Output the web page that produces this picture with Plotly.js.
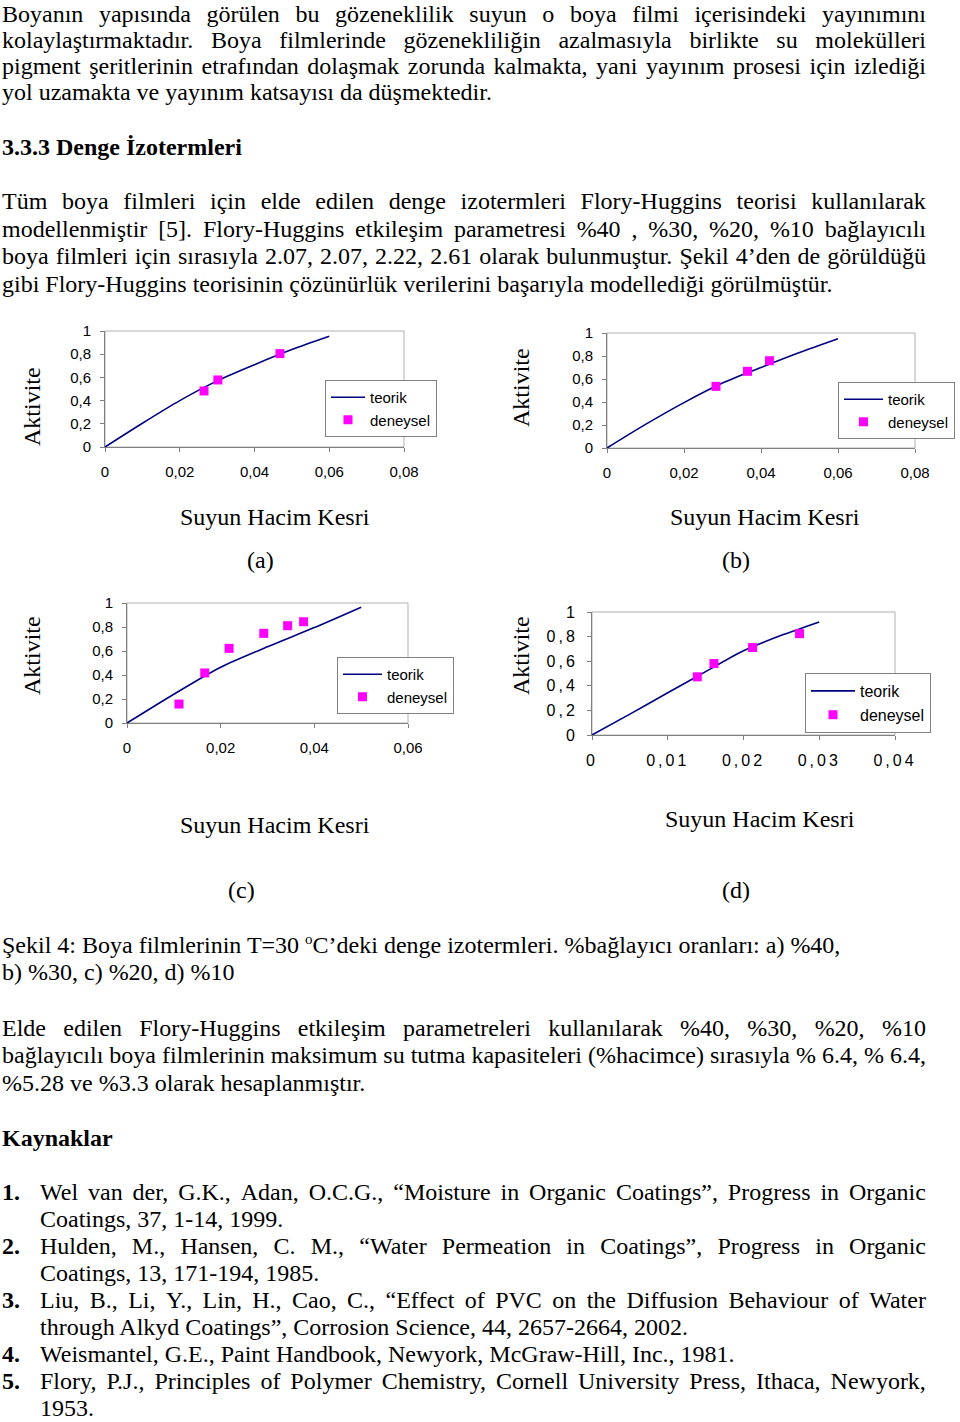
<!DOCTYPE html>
<html>
<head>
<meta charset="utf-8">
<script src="https://cdn.plot.ly/plotly-3.0.1.min.js"></script>
<style>
html,body{margin:0;padding:0;background:#fff;}
#page{position:relative;width:960px;height:1422px;overflow:hidden;background:#fff;}
#chart{position:absolute;left:0;top:0;width:960px;height:1422px;}
.ln{position:absolute;font-family:'Liberation Serif','Times New Roman',serif;font-size:24px;line-height:20px;white-space:nowrap;color:#000;z-index:2;}
.jf{display:flex;justify-content:space-between;}
.b{font-weight:bold;}
sup{font-size:15px;line-height:0;vertical-align:9px;}
.x4tick text,.y4tick text{letter-spacing:3px;}
.legend4 .legendtext{letter-spacing:1px;}
</style>
</head>
<body>
<div id="page">
<div id="chart"></div>
<div id="text"></div>
</div>
<script>
// ---------- data ----------
const seriesNames = ['teorik', 'deneysel'];

const teorikA_x = [0, 0.01, 0.02, 0.03, 0.04, 0.05, 0.06];
const teorikA_y = [0, 0.205, 0.40, 0.57, 0.71, 0.84, 0.955];
const deneyselA_x = [0.0265, 0.0302, 0.0468];
const deneyselA_y = [0.483, 0.578, 0.805];

const teorikB_x = [0, 0.01, 0.02, 0.03, 0.04, 0.05, 0.06];
const teorikB_y = [0, 0.205, 0.395, 0.565, 0.70, 0.83, 0.95];
const deneyselB_x = [0.0283, 0.0365, 0.0422];
const deneyselB_y = [0.536, 0.667, 0.759];

const teorikC_x = [0, 0.01, 0.02, 0.03, 0.04, 0.05];
const teorikC_y = [0, 0.24, 0.465, 0.635, 0.795, 0.965];
const deneyselC_x = [0.0111, 0.0166, 0.0218, 0.0292, 0.0343, 0.0377];
const deneyselC_y = [0.158, 0.417, 0.622, 0.747, 0.811, 0.844];

const teorikD_x = [0, 0.005, 0.01, 0.015, 0.02, 0.025, 0.03];
const teorikD_y = [0, 0.17, 0.343, 0.515, 0.685, 0.81, 0.919];
const deneyselD_x = [0.0139, 0.0161, 0.0212, 0.0274];
const deneyselD_y = [0.473, 0.581, 0.711, 0.824];

const yTickVals = [0, 0.2, 0.4, 0.6, 0.8, 1];
const yTickText = ['0', '0,2', '0,4', '0,6', '0,8', '1'];
const xTickValsAB = [0, 0.02, 0.04, 0.06, 0.08];
const xTickTextAB = ['0', '0,02', '0,04', '0,06', '0,08'];
const xTickValsC = [0, 0.02, 0.04, 0.06];
const xTickTextC = ['0', '0,02', '0,04', '0,06'];
const xTickValsD = [0, 0.01, 0.02, 0.03, 0.04];
const xTickTextD = ['0', '0,01', '0,02', '0,03', '0,04'];

const xTitle = 'Suyun Hacim Kesri';
const yTitle = 'Aktivite';
const panelLabels = ['(a)', '(b)', '(c)', '(d)'];

// ---------- layout config (page pixels) ----------
const W = 960, H = 1422;
const px = v => v / W;
const py = v => 1 - v / H;

const panels = [
  {tx: teorikA_x, ty: teorikA_y, dx: deneyselA_x, dy: deneyselA_y, xv: xTickValsAB, xt: xTickTextAB, xmax: 0.08,
   L: 105, R: 404, T: 331, B: 447, lgL: 325, lgT: 380, lgW: 34, ttlX: 275, ttlY: 517, labX: 260, labY: 560, akX: 32, akY: 407, fs: 15},
  {tx: teorikB_x, ty: teorikB_y, dx: deneyselB_x, dy: deneyselB_y, xv: xTickValsAB, xt: xTickTextAB, xmax: 0.08,
   L: 607, R: 915, T: 333, B: 448, lgL: 838, lgT: 382, lgW: 39, ttlX: 765, ttlY: 517, labX: 736, labY: 560, akX: 521, akY: 388, fs: 15},
  {tx: teorikC_x, ty: teorikC_y, dx: deneyselC_x, dy: deneyselC_y, xv: xTickValsC, xt: xTickTextC, xmax: 0.06,
   L: 127, R: 408, T: 603, B: 723, lgL: 337, lgT: 657, lgW: 39, ttlX: 275, ttlY: 825, labX: 241, labY: 890, akX: 32, akY: 656, fs: 15},
  {tx: teorikD_x, ty: teorikD_y, dx: deneyselD_x, dy: deneyselD_y, xv: xTickValsD, xt: xTickTextD, xmax: 0.04,
   L: 592, R: 895, T: 612, B: 735, lgL: 805, lgT: 673, lgW: 44, ttlX: 760, ttlY: 819, labX: 736, labY: 890, akX: 521, akY: 656, fs: 16}
];

const traces = [];
const layout = {
  width: W, height: H,
  margin: {l: 0, r: 0, t: 0, b: 0},
  paper_bgcolor: 'rgba(0,0,0,0)', plot_bgcolor: 'rgba(0,0,0,0)',
  separators: ', ',
  font: {family: 'Liberation Sans, Arial, sans-serif', color: '#000', size: 15},
  annotations: [], shapes: []
};
const serif = 'Liberation Serif, Times New Roman, serif';

panels.forEach((p, i) => {
  const s = i === 0 ? '' : String(i + 1);
  const lg = 'legend' + s;
  traces.push({
    type: 'scatter', mode: 'lines', name: seriesNames[0], x: p.tx, y: p.ty,
    xaxis: 'x' + s, yaxis: 'y' + s, legend: lg,
    line: {color: '#000080', width: 1.6, shape: 'spline', smoothing: 0.8}
  });
  traces.push({
    type: 'scatter', mode: 'markers', name: seriesNames[1], x: p.dx, y: p.dy,
    xaxis: 'x' + s, yaxis: 'y' + s, legend: lg,
    marker: {color: '#ff00ff', symbol: 'square', size: 9}
  });
  const axCommon = {
    showgrid: false, zeroline: false, showline: true, linecolor: '#808080', linewidth: 1,
    ticks: 'outside', ticklen: 4, tickcolor: '#808080', tickwidth: 1,
    tickfont: {family: 'Liberation Sans, Arial, sans-serif', size: p.fs, color: '#000'},
    fixedrange: true
  };
  layout['xaxis' + s] = Object.assign({}, axCommon, {
    domain: [px(p.L), px(p.R)], anchor: 'y' + s, range: [0, p.xmax], autorange: false,
    tickmode: 'array', tickvals: p.xv, ticktext: p.xt, ticklabelstandoff: 7
  });
  layout['yaxis' + s] = Object.assign({}, axCommon, {
    domain: [py(p.B), py(p.T)], anchor: 'x' + s, range: [0, 1], autorange: false,
    tickmode: 'array', tickvals: yTickVals, ticktext: yTickText, ticklabelstandoff: 6
  });
  layout[lg] = {
    x: px(p.lgL), y: py(p.lgT), xanchor: 'left', yanchor: 'top',
    bgcolor: '#ffffff', bordercolor: '#808080', borderwidth: 1,
    font: {family: 'Liberation Sans, Arial, sans-serif', size: p.fs, color: '#000'},
    tracegroupgap: 4, itemwidth: p.lgW
  };
  layout.shapes.push({
    type: 'rect', xref: 'x' + s + ' domain', yref: 'y' + s + ' domain',
    x0: 0, x1: 1, y0: 0, y1: 1, line: {color: '#b0b0b0', width: 1}, layer: 'below'
  });
  layout.annotations.push(
    {text: xTitle, xref: 'paper', yref: 'paper', x: px(p.ttlX), y: py(p.ttlY), xanchor: 'center', yanchor: 'middle',
     showarrow: false, font: {family: serif, size: 24, color: '#000'}},
    {text: panelLabels[i], xref: 'paper', yref: 'paper', x: px(p.labX), y: py(p.labY), xanchor: 'center', yanchor: 'middle',
     showarrow: false, font: {family: serif, size: 24, color: '#000'}},
    {text: yTitle, xref: 'paper', yref: 'paper', x: px(p.akX), y: py(p.akY), xanchor: 'center', yanchor: 'middle',
     textangle: -90, showarrow: false, font: {family: serif, size: 24, color: '#000'}}
  );
});

Plotly.newPlot('chart', traces, layout, {staticPlot: true, displayModeBar: false});

// ---------- body text ----------
const lines = [
  {c: 14, t: 'Boyanın yapısında görülen bu gözeneklilik suyun o boya filmi içerisindeki yayınımını', j: 1},
  {c: 40, t: 'kolaylaştırmaktadır. Boya filmlerinde gözenekliliğin azalmasıyla birlikte su molekülleri', j: 1},
  {c: 66, t: 'pigment şeritlerinin etrafından dolaşmak zorunda kalmakta, yani yayınım prosesi için izlediği', j: 1},
  {c: 92, t: 'yol uzamakta ve yayınım katsayısı da düşmektedir.'},
  {c: 147, t: '3.3.3 Denge İzotermleri', b: 1},
  {c: 201, t: 'Tüm boya filmleri için elde edilen denge izotermleri Flory-Huggins teorisi kullanılarak', j: 1},
  {c: 229, t: 'modellenmiştir [5]. Flory-Huggins etkileşim parametresi %40 , %30, %20, %10 bağlayıcılı', j: 1},
  {c: 256, t: 'boya filmleri için sırasıyla 2.07, 2.07, 2.22, 2.61 olarak bulunmuştur. Şekil 4’den de görüldüğü', j: 1},
  {c: 284, t: 'gibi Flory-Huggins teorisinin çözünürlük verilerini başarıyla modellediği görülmüştür.'},
  {c: 945, h: 'Şekil 4: Boya filmlerinin T=30 <sup>o</sup>C’deki denge izotermleri. %bağlayıcı oranları: a) %40,'},
  {c: 972, t: 'b) %30, c) %20, d) %10'},
  {c: 1028, t: 'Elde edilen Flory-Huggins etkileşim parametreleri kullanılarak %40, %30, %20, %10', j: 1},
  {c: 1055, t: 'bağlayıcılı boya filmlerinin maksimum su tutma kapasiteleri (%hacimce) sırasıyla % 6.4, % 6.4,', j: 1},
  {c: 1083, t: '%5.28 ve %3.3 olarak hesaplanmıştır.'},
  {c: 1138, t: 'Kaynaklar', b: 1},
  {c: 1192, t: '1.', b: 1},
  {c: 1192, t: 'Wel van der, G.K., Adan, O.C.G., “Moisture in Organic Coatings”, Progress in Organic', j: 1, r: 1},
  {c: 1219, t: 'Coatings, 37, 1-14, 1999.', r: 1},
  {c: 1246, t: '2.', b: 1},
  {c: 1246, t: 'Hulden, M., Hansen, C. M., “Water Permeation in Coatings”, Progress in Organic', j: 1, r: 1},
  {c: 1273, t: 'Coatings, 13, 171-194, 1985.', r: 1},
  {c: 1300, t: '3.', b: 1},
  {c: 1300, t: 'Liu, B., Li, Y., Lin, H., Cao, C., “Effect of PVC on the Diffusion Behaviour of Water', j: 1, r: 1},
  {c: 1327, t: 'through Alkyd Coatings”, Corrosion Science, 44, 2657-2664, 2002.', r: 1},
  {c: 1354, t: '4.', b: 1},
  {c: 1354, t: 'Weismantel, G.E., Paint Handbook, Newyork, McGraw-Hill, Inc., 1981.', r: 1},
  {c: 1381, t: '5.', b: 1},
  {c: 1381, t: 'Flory, P.J., Principles of Polymer Chemistry, Cornell University Press, Ithaca, Newyork,', j: 1, r: 1},
  {c: 1408, t: '1953.', r: 1}
];
const host = document.getElementById('text');
lines.forEach(l => {
  const d = document.createElement('div');
  d.className = 'ln' + (l.b ? ' b' : '') + (l.j ? ' jf' : '');
  const left = l.r ? 40 : 2;
  d.style.left = left + 'px';
  d.style.top = (l.c - 10) + 'px';
  if (l.j) {
    d.style.width = (926 - left) + 'px';
    l.t.split(' ').forEach(w => {
      const s = document.createElement('span');
      s.textContent = w;
      d.appendChild(s);
    });
  } else if (l.h) {
    d.innerHTML = l.h;
  } else {
    d.textContent = l.t;
  }
  host.appendChild(d);
});
</script>
</body>
</html>
